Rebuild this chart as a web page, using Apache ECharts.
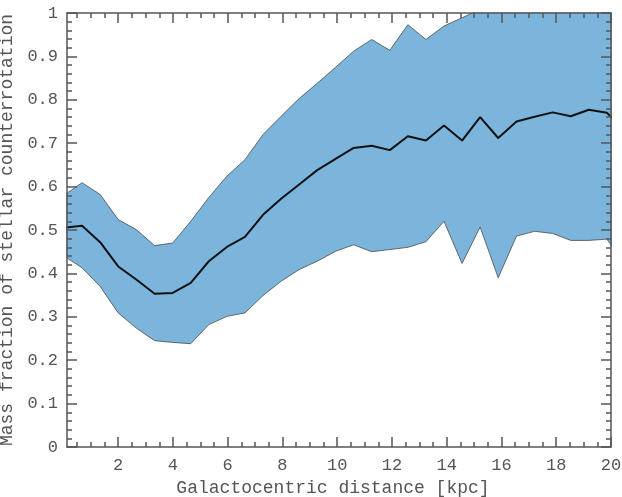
<!DOCTYPE html>
<html>
<head>
<meta charset="utf-8">
<script src="https://cdn.jsdelivr.net/npm/echarts@6/dist/echarts.min.js"></script>
<style>
  html, body { margin: 0; padding: 0; background: #ffffff; }
  #chart { width: 622px; height: 497px; }
</style>
</head>
<body>
<div id="chart"></div>
<script>
// Radial bins (kpc)
const distanceKpc = [0.02, 0.68, 1.34, 2.0, 2.66, 3.33, 3.99, 4.65, 5.31, 5.97, 6.63,
  7.29, 7.95, 8.61, 9.27, 9.94, 10.6, 11.26, 11.92, 12.58, 13.24, 13.9, 14.56,
  15.22, 15.88, 16.55, 17.21, 17.87, 18.53, 19.19, 19.85, 20.51];

// Median mass fraction of counter-rotating stars
const medianFraction = [0.505, 0.510, 0.472, 0.416, 0.386, 0.353, 0.355, 0.378, 0.428,
  0.461, 0.484, 0.535, 0.572, 0.605, 0.638, 0.664, 0.689, 0.694, 0.684, 0.716,
  0.706, 0.741, 0.706, 0.760, 0.712, 0.750, 0.761, 0.771, 0.762, 0.777, 0.770, 0.730];

// Lower and upper edges of the scatter band
const lowerFraction = [0.440, 0.413, 0.370, 0.309, 0.274, 0.245, 0.241, 0.238, 0.282,
  0.301, 0.309, 0.349, 0.382, 0.409, 0.428, 0.451, 0.466, 0.450, 0.455, 0.460,
  0.473, 0.520, 0.423, 0.507, 0.390, 0.486, 0.497, 0.492, 0.476, 0.476, 0.479, 0.420];
const upperFraction = [0.580, 0.609, 0.582, 0.524, 0.501, 0.464, 0.470, 0.520, 0.575,
  0.624, 0.662, 0.720, 0.762, 0.803, 0.838, 0.875, 0.912, 0.939, 0.914, 0.973,
  0.939, 0.970, 0.989, 1.008, 1.030, 1.050, 1.060, 1.080, 1.070, 1.090, 1.100, 1.100];

// Axis ticks
const xMajorTicks = [2, 4, 6, 8, 10, 12, 14, 16, 18, 20];
const xMinorTicks = [0.5, 1, 1.5, 2.5, 3, 3.5, 4.5, 5, 5.5, 6.5, 7, 7.5, 8.5, 9, 9.5,
  10.5, 11, 11.5, 12.5, 13, 13.5, 14.5, 15, 15.5, 16.5, 17, 17.5, 18.5, 19, 19.5];

const X_MIN = 0.13, X_MAX = 20;
const AXIS_COLOR = '#555555';
const BAND_COLOR = '#7cb5db';
const EDGE_COLOR = '#4a4a4a';
const FONT = '"Liberation Mono", "DejaVu Sans Mono", monospace';

const pairs = ys => distanceKpc.map((x, i) => [x, ys[i]]);

function xAxisDef(position, ticks, tickLen, withLine, withLabels) {
  return {
    type: 'value', position, min: X_MIN, max: X_MAX, z: 10,
    axisLine: { show: withLine, onZero: false, lineStyle: { color: AXIS_COLOR, width: 1.5 } },
    axisTick: { show: true, inside: true, length: tickLen, customValues: ticks,
      lineStyle: { color: AXIS_COLOR, width: 1.5 } },
    axisLabel: withLabels ? {
      show: true, customValues: xMajorTicks, margin: 10,
      color: AXIS_COLOR, fontFamily: FONT, fontSize: 17
    } : { show: false },
    splitLine: { show: false },
    name: withLabels ? 'Galactocentric distance [kpc]' : '',
    nameLocation: 'middle', nameGap: 31,
    nameTextStyle: { color: AXIS_COLOR, fontFamily: FONT, fontSize: 18, padding: [0, 12, 0, 0] }
  };
}

function yAxisDef(position, withLabels) {
  return {
    type: 'value', position, min: 0, max: 1, interval: 0.1, z: 10,
    axisLine: { show: true, onZero: false, lineStyle: { color: AXIS_COLOR, width: 1.5 } },
    axisTick: { show: true, inside: true, length: 10, lineStyle: { color: AXIS_COLOR, width: 1.5 } },
    minorTick: { show: true, splitNumber: 5, length: 5, lineStyle: { color: AXIS_COLOR, width: 1.5 } },
    axisLabel: withLabels ? {
      show: true, margin: 9, color: AXIS_COLOR, fontFamily: FONT, fontSize: 17
    } : { show: false },
    splitLine: { show: false },
    name: withLabels ? 'Mass fraction of stellar counterrotation' : '',
    nameLocation: 'middle', nameGap: 39,
    nameTextStyle: { color: AXIS_COLOR, fontFamily: FONT, fontSize: 18 }
  };
}

const chart = echarts.init(document.getElementById('chart'), null, { renderer: 'canvas' });
chart.setOption({
  animation: false,
  backgroundColor: '#ffffff',
  grid: { left: 67, right: 11, top: 13, bottom: 50, containLabel: false, outerBoundsMode: 'none' },
  xAxis: [
    xAxisDef('bottom', xMajorTicks, 10, true, true),
    xAxisDef('bottom', xMinorTicks, 5, false, false),
    xAxisDef('top', xMajorTicks, 10, true, false),
    xAxisDef('top', xMinorTicks, 5, false, false)
  ],
  yAxis: [
    yAxisDef('left', true),
    yAxisDef('right', false)
  ],
  series: [
    // band: blue down from the upper edge, then white up to the lower edge
    {
      name: 'upper', type: 'line', data: pairs(upperFraction),
      symbol: 'none', clip: true, z: 2,
      lineStyle: { color: EDGE_COLOR, width: 0.8 },
      areaStyle: { color: BAND_COLOR, opacity: 1, origin: 'start' }
    },
    {
      name: 'lower', type: 'line', data: pairs(lowerFraction),
      symbol: 'none', clip: true, z: 2,
      lineStyle: { color: EDGE_COLOR, width: 0.8 },
      areaStyle: { color: '#ffffff', opacity: 1, origin: 'start' }
    },
    {
      name: 'median', type: 'line', data: pairs(medianFraction),
      symbol: 'none', clip: true, z: 3,
      lineStyle: { color: '#111111', width: 2 }
    }
  ]
});
</script>
</body>
</html>
